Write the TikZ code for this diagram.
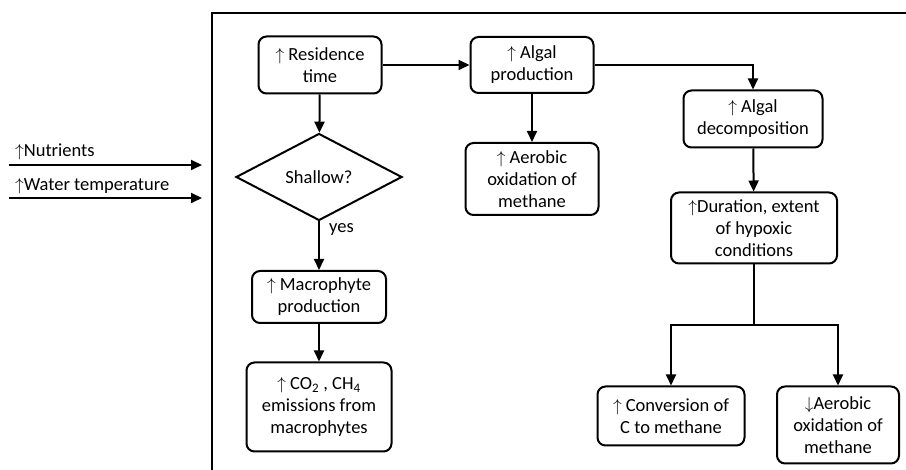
\documentclass[tikz,border=0pt]{standalone}
\usepackage{fontspec}
\setmainfont{Carlito}
\usetikzlibrary{arrows.meta,shapes.geometric}
\newcommand{\up}{$\uparrow$}
\newcommand{\dn}{$\downarrow$}
\begin{document}
\begin{tikzpicture}[x=1pt,y=-1pt,
  every node/.style={font=\fontsize{18.5}{22}\selectfont},
  box/.style={draw,line width=2pt,rounded corners=8pt,align=center,inner sep=0pt},
  dia/.style={draw,line width=2pt,diamond,inner sep=0pt,minimum width=166pt,minimum height=87pt},
  arr/.style={line width=2pt,-{Triangle[width=10pt,length=11pt]}},
  ln/.style={line width=2pt}]
\useasboundingbox (0,0) rectangle (906,470);
\draw[ln] (907,13) -- (212,13) -- (212,471);
% nodes
\node[box,minimum width=123pt,minimum height=57pt] (res) at (320,65) {\up\ Residence\\time};
\node[dia] (shallow) at (319,177) {Shallow?};
\node[box,minimum width=134pt,minimum height=52pt] (macro) at (319,297) {\up\ Macrophyte\\production};
\node[box,minimum width=145pt,minimum height=89pt] (co2) at (319,407) {\up\ CO\textsubscript{2} , CH\textsubscript{4}\\emissions from\\macrophytes};
\node[box,minimum width=123pt,minimum height=56pt] (algal) at (532,65) {\up\ Algal\\production};
\node[box,minimum width=133pt,minimum height=72pt] (aer) at (532,179) {\up\ Aerobic\\oxidation of\\methane};
\node[box,minimum width=139pt,minimum height=57pt] (decomp) at (753,119) {\up\ Algal\\decomposition};
\node[box,minimum width=166pt,minimum height=71pt] (dur) at (754,228) {\up Duration, extent\\of hypoxic\\conditions};
\node[box,minimum width=147pt,minimum height=59pt] (conv) at (671,416) {\up\ Conversion of\\C to methane};
\node[box,minimum width=122pt,minimum height=77pt] (daer) at (838,425) {\dn Aerobic\\oxidation of\\methane};
\node[anchor=west,inner sep=0pt] (nut) at (15,152) {\up Nutrients};
\node[anchor=west,inner sep=0pt] (wt) at (15,186) {\up Water temperature};
\node[anchor=west,inner sep=0pt] (yes) at (329,230) {yes};
% coordinates
\coordinate (n1) at (9,165);
\coordinate (n2) at (202,165);
\coordinate (w1) at (9,198);
\coordinate (w2) at (202,198);
\coordinate (split) at (754,325);
% edges
\draw[arr] (n1) -- (n2);
\draw[arr] (w1) -- (w2);
\draw[arr] (res) -- (shallow);
\draw[arr] (res) -- (algal);
\draw[arr] (algal) -- (aer);
\draw[arr] (algal.east) -| (decomp.north);
\draw[arr] (shallow.south) -- (macro.north);
\draw[arr] (macro) -- (co2);
\draw[arr] (decomp) -- (dur);
\draw[ln] (dur.south) -- (split);
\draw[arr] (split) -| (conv.north);
\draw[arr] (split) -| (daer.north);
\end{tikzpicture}
\end{document}
